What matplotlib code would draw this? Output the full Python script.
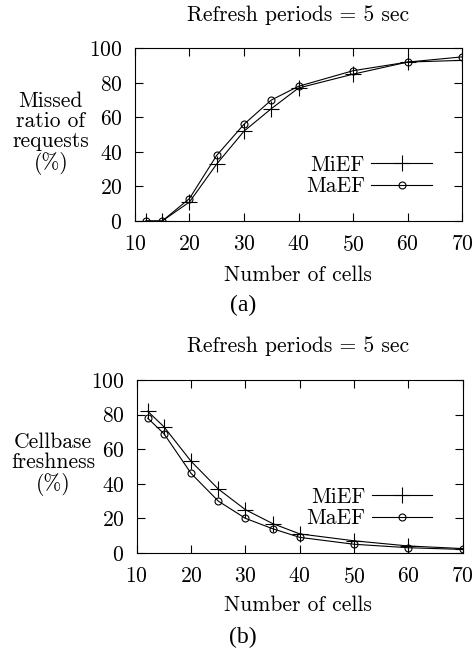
import matplotlib
matplotlib.use("Agg")
import matplotlib.pyplot as plt

# data
cells = [12, 15, 20, 25, 30, 35, 40, 50, 60, 70]
missed_mief = [0, 0, 11, 33, 52, 65, 77, 85, 92, 93]
missed_maef = [0, 0, 13, 38, 56, 70, 78, 87, 92, 95]
fresh_mief = [82, 73, 53, 37, 25, 17, 11, 7, 4, 2.5]
fresh_maef = [78, 69, 46, 30, 20, 14, 9, 5, 3, 2]

xticks = [10, 20, 30, 40, 50, 60, 70]
yticks = [0, 20, 40, 60, 80, 100]

plt.rcParams['font.family'] = ['cmr10', 'DejaVu Serif']
plt.rcParams['mathtext.fontset'] = 'cm'
plt.rcParams['axes.formatter.use_mathtext'] = True
plt.rcParams['font.size'] = 15.5

fig = plt.figure(figsize=(4.75, 6.52), dpi=100)


def panel(rect, mief, maef, ylabel, ylab_xy, title_y, xlab_y, tag, tag_y):
  ax = fig.add_axes(rect)
  ax.plot(cells, mief, color='black', lw=0.8, marker='+', ms=12, mew=0.8, label='MiEF')
  ax.plot(cells, maef, color='black', lw=0.8, marker='o', ms=5, mew=0.8,
          mfc='none', label='MaEF')
  ax.set_xlim(10, 70)
  ax.set_ylim(0, 100)
  ax.set_xticks(xticks)
  ax.set_yticks(yticks)
  ax.tick_params(direction='in', length=6, width=0.8, top=True, right=True)
  ax.tick_params(axis='y', pad=9)
  ax.tick_params(axis='x', pad=10)
  for s in ax.spines.values():
    s.set_linewidth(0.8)
  ax.legend(loc='lower right', bbox_to_anchor=(0.94, 0.08), frameon=False,
            markerfirst=False, handlelength=2.8, handletextpad=0.3,
            labelspacing=0.1, borderpad=0)
  fig.text(ylab_xy[0], ylab_xy[1], ylabel, ha='center', va='center', linespacing=1.05)
  fig.text(0.627, title_y, 'Refresh periods = 5 sec', ha='center', va='center')
  fig.text(0.627, xlab_y, 'Number of cells', ha='center', va='center')
  fig.text(0.512, tag_y, tag, ha='center', va='center', family='Liberation Serif', fontsize=17)
  return ax


panel([0.284, 0.661, 0.689, 0.265], missed_mief, missed_maef,
      'Missed\nratio of\nrequests\n(%)', (0.107, 0.796), 0.977, 0.578, '(a)', 0.532)
panel([0.288, 0.152, 0.686, 0.265], fresh_mief, fresh_maef,
      'Cellbase\nfreshness\n(%)', (0.112, 0.288), 0.469, 0.072, '(b)', 0.023)

fig.savefig('out.png', dpi=100)
